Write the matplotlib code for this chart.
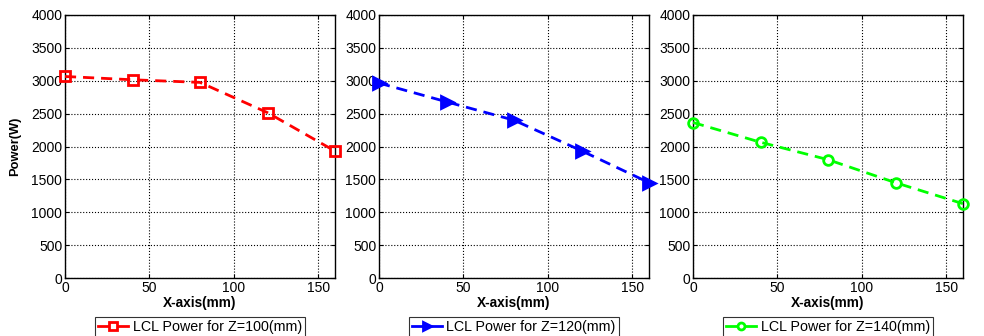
import numpy as np
import matplotlib
matplotlib.use("Agg")
import matplotlib.pyplot as plt
from matplotlib.lines import Line2D

plt.rcParams['font.family'] = ['Liberation Sans', 'DejaVu Sans']

# data
x_mm = [0, 40, 80, 120, 160]
power_z100 = [3065, 3015, 2975, 2515, 1930]
power_z120 = [2965, 2680, 2400, 1935, 1450]
power_z140 = [2365, 2065, 1800, 1450, 1130]
labels = ['LCL Power for Z=100(mm)', 'LCL Power for Z=120(mm)', 'LCL Power for Z=140(mm)']
yticks = [0, 500, 1000, 1500, 2000, 2500, 3000, 3500, 4000]
xticks = [0, 50, 100, 150]

fig = plt.figure(figsize=(9.84, 3.36), dpi=100)
lefts = [65 / 984, 379 / 984, 693 / 984]
w = 270 / 984
b = 1 - 278 / 336
h = 263 / 336

series = [power_z100, power_z120, power_z140]
colors = ['#ff0000', '#0000ff', '#00ff00']
markers = ['s', '>', 'o']
mfaces = ['none', '#0000ff', 'none']
msizes = [7.5, 8, 7]

for i in range(3):
    ax = fig.add_axes([lefts[i], b, w, h])
    ax.plot(x_mm, series[i], color=colors[i], ls=(0, (4, 2.5)), lw=2,
            marker=markers[i], mfc=mfaces[i], mec=colors[i], mew=2, ms=msizes[i],
            clip_on=False, zorder=3)
    ax.set_xlim(0, 160)
    ax.set_ylim(0, 4000)
    ax.set_xticks(xticks)
    ax.set_yticks(yticks)
    ax.grid(True, color='black', ls=':', lw=0.8)
    ax.tick_params(direction='in', top=True, right=True, labelsize=10, length=3, pad=2)
    for s in ax.spines.values():
        s.set_linewidth(1.0)
    ax.set_xlabel('X-axis(mm)', fontsize=9.8, fontweight='bold', labelpad=1)
    if i == 0:
        ax.set_ylabel('Power(W)', fontsize=9.3, fontweight='bold', labelpad=7)
    handle = Line2D([], [], color=colors[i], lw=2, marker=markers[i],
                    mfc=mfaces[i] if mfaces[i] != 'none' else 'white',
                    mec=colors[i], mew=2, ms=msizes[i] - 2)
    leg = ax.legend([handle], [labels[i]], loc='upper center',
                    bbox_to_anchor=(0.5, -(316.7 - 278) / 263), borderaxespad=0,
                    fontsize=10.3, frameon=True, fancybox=False, edgecolor='black',
                    handlelength=2.1, borderpad=0.25, handletextpad=0.3)
    leg.get_frame().set_linewidth(0.8)

fig.savefig('out.png', dpi=100)
